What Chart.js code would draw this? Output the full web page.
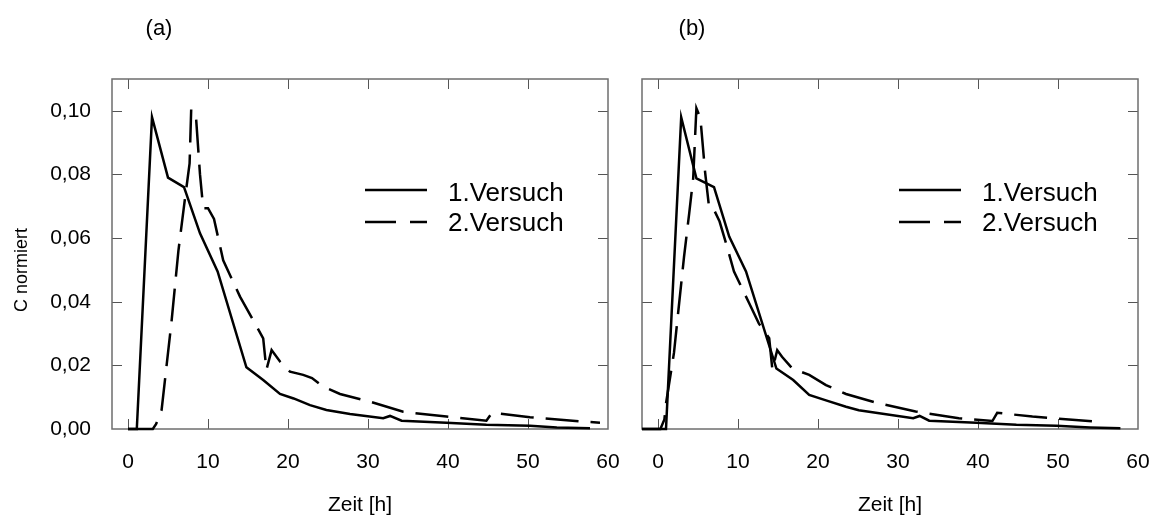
<!DOCTYPE html>
<html>
<head>
<meta charset="utf-8">
<script src="https://cdn.jsdelivr.net/npm/chart.js@4.4.1/dist/chart.umd.min.js"></script>
<style>
  body { margin: 0; background: #fff; }
  .panel { position: absolute; top: 0; height: 520px; }
  #links { left: 0; width: 620px; }
  #rechts { left: 620px; width: 534px; }
</style>
</head>
<body>
<div class="panel" id="links"><canvas id="chartA"></canvas></div>
<div class="panel" id="rechts"><canvas id="chartB"></canvas></div>
<script>
const xTicks = [0, 10, 20, 30, 40, 50, 60];
const yTicks = [0, 0.02, 0.04, 0.06, 0.08, 0.10];
const serienNamen = ["1.Versuch", "2.Versuch"];

// (a) 1.Versuch
const zeitA1 = [0, 1.1, 3, 5, 7, 9, 11.2, 14.8, 16.9, 19, 20.7, 22.75, 24.8, 27.75, 31.9, 32.75, 34.2, 39.8, 44.8, 50.25, 53.6, 57.75];
const wertA1 = [0, 0, 0.098, 0.079, 0.076, 0.0615, 0.0495, 0.0194, 0.0154, 0.011, 0.0096, 0.0075, 0.006, 0.0047, 0.0034, 0.0041, 0.0026, 0.002, 0.0013, 0.001, 0.0005, 0.0002];

// (a) 2.Versuch
const zeitA2 = [0, 3.1, 3.5, 3.75, 4.2, 5.45, 6.3, 7.1, 7.7, 7.9, 8.5, 9, 9.4, 10, 10.75, 11.9, 14, 16.9, 17.3, 17.95, 19, 20.25, 21.9, 23, 24.4, 26.5, 30.25, 34.4, 39.8, 44.8, 45.5, 50.25, 56.9, 59];
const wertA2 = [0, 0, 0.0015, 0.003, 0.006, 0.034, 0.056, 0.072, 0.0835, 0.1005, 0.098, 0.08, 0.0694, 0.0694, 0.066, 0.053, 0.0416, 0.0285, 0.0186, 0.0248, 0.0212, 0.018, 0.017, 0.016, 0.0133, 0.011, 0.0086, 0.0054, 0.0039, 0.0026, 0.0051, 0.0037, 0.0023, 0.002];

// (b) 1.Versuch
const zeitB1 = [-2, 1, 2.9, 4.8, 7, 8.9, 11, 14.8, 16.9, 18.9, 21, 23.5, 25.1, 31.9, 32.7, 33.9, 39.8, 44.8, 49.8, 54, 57.8];
const wertB1 = [0, 0, 0.098, 0.0788, 0.076, 0.0605, 0.0495, 0.019, 0.0154, 0.0107, 0.009, 0.007, 0.0059, 0.0034, 0.0041, 0.0026, 0.002, 0.0013, 0.001, 0.0005, 0.0002];

// (b) 2.Versuch
const zeitB2 = [-2, 0.3, 0.8, 1, 2, 2.6, 3.25, 3.9, 4.4, 4.8, 5.3, 5.9, 6.4, 7, 7.7, 8.5, 9.5, 11.4, 12.6, 13.9, 14.3, 14.9, 15.5, 16.8, 18.9, 21, 23.5, 27.2, 32.2, 37.6, 41.8, 42.4, 46.8, 55.5];
const wertB2 = [0, 0, 0.003, 0.008, 0.024, 0.0385, 0.054, 0.0678, 0.0788, 0.1008, 0.0977, 0.0804, 0.0694, 0.0689, 0.0652, 0.0584, 0.0495, 0.0395, 0.0332, 0.0285, 0.0186, 0.0248, 0.0227, 0.019, 0.017, 0.0138, 0.011, 0.0083, 0.0055, 0.0034, 0.0025, 0.0051, 0.0039, 0.0022];

const schrift = "'Liberation Sans', Arial, sans-serif";
const strich = [33, 12];

function punkte(zeit, werte) {
    return zeit.map((t, i) => ({ x: t, y: werte[i] }));
}

// Rahmen mit nach innen zeigenden Ticks auf allen vier Seiten
const rahmen = {
    id: "rahmen",
    beforeDatasetsDraw(chart) {
        const { ctx, chartArea: a, scales: { x, y } } = chart;
        ctx.save();
        ctx.strokeStyle = "#555";
        ctx.lineWidth = 1;
        ctx.beginPath();
        xTicks.forEach(v => {
            const px = Math.round(x.getPixelForValue(v)) + 0.5;
            if (px >= a.right - 2) return;
            ctx.moveTo(px, a.bottom); ctx.lineTo(px, a.bottom - 10);
            ctx.moveTo(px, a.top); ctx.lineTo(px, a.top + 10);
        });
        yTicks.forEach(v => {
            const py = Math.round(y.getPixelForValue(v)) + 0.5;
            if (py >= a.bottom - 2) return;
            ctx.moveTo(a.left, py); ctx.lineTo(a.left + 10, py);
            ctx.moveTo(a.right, py); ctx.lineTo(a.right - 10, py);
        });
        ctx.stroke();
        ctx.strokeStyle = "#6e6e6e";
        ctx.lineWidth = 1.5;
        ctx.strokeRect(a.left, a.top, a.right - a.left, a.bottom - a.top);
        ctx.restore();
    }
};

// Achsentitel, Panelbuchstabe und Legende
const beschriftung = {
    id: "beschriftung",
    afterDraw(chart, args, opt) {
        const { ctx, chartArea: a } = chart;
        ctx.save();
        ctx.fillStyle = "#000";
        ctx.textAlign = "center";
        ctx.textBaseline = "middle";
        ctx.font = "21px " + schrift;
        ctx.fillText("Zeit [h]", (a.left + a.right) / 2, 505);
        ctx.font = "22px " + schrift;
        ctx.fillText(opt.panel, opt.panelX, 29);
        if (opt.yTitel) {
            ctx.save();
            ctx.translate(22, 270);
            ctx.rotate(-Math.PI / 2);
            ctx.font = "18px " + schrift;
            ctx.fillText("C normiert", 0, 0);
            ctx.restore();
        }

        ctx.strokeStyle = "#000";
        ctx.lineWidth = 2.5;
        const x0 = opt.legendeX, x1 = opt.legendeX + 62;
        ctx.beginPath();
        ctx.moveTo(x0, 190); ctx.lineTo(x1, 190);
        ctx.stroke();
        ctx.beginPath();
        ctx.moveTo(x0, 222); ctx.lineTo(x0 + 31, 222);
        ctx.moveTo(x0 + 45, 222); ctx.lineTo(x1, 222);
        ctx.stroke();

        ctx.font = "26px " + schrift;
        ctx.textAlign = "left";
        ctx.textBaseline = "alphabetic";
        ctx.fillText(serienNamen[0], opt.legendeX + 83, 201);
        ctx.fillText(serienNamen[1], opt.legendeX + 83, 231);
        ctx.restore();
    }
};

function panel(canvasId, serie1, serie2, o) {
    return new Chart(document.getElementById(canvasId), {
        type: "line",
        data: {
            datasets: [
                { label: serienNamen[0], data: serie1, borderColor: "#000", borderWidth: 2.5 },
                { label: serienNamen[1], data: serie2, borderColor: "#000", borderWidth: 2.5, borderDash: strich }
            ]
        },
        options: {
            responsive: true,
            maintainAspectRatio: false,
            animation: false,
            events: [],
            layout: { padding: { top: 79, right: o.rechts, left: 0, bottom: 0 } },
            elements: { point: { radius: 0 }, line: { tension: 0, fill: false } },
            datasets: { line: { clip: 6 } },
            scales: {
                x: {
                    type: "linear",
                    min: -2,
                    max: 60,
                    grid: { display: false },
                    border: { display: false },
                    afterBuildTicks: s => { s.ticks = xTicks.map(v => ({ value: v })); },
                    afterFit: s => {
                        s.height = 91;
                        s.paddingLeft = 0;
                        s.paddingRight = 0;
                    },
                    ticks: {
                        autoSkip: false,
                        maxRotation: 0,
                        padding: 13,
                        color: "#000",
                        font: { family: schrift, size: 21 }
                    }
                },
                y: {
                    min: 0,
                    max: 0.11,
                    grid: { display: false },
                    border: { display: false },
                    afterBuildTicks: s => { s.ticks = yTicks.map(v => ({ value: v })); },
                    afterFit: s => {
                        s.width = o.yBreite;
                        s.paddingTop = 0;
                        s.paddingBottom = 0;
                    },
                    ticks: {
                        display: o.yLabels,
                        padding: 13,
                        color: "#000",
                        font: { family: schrift, size: 21 },
                        callback: v => v.toFixed(2).replace(".", ",")
                    }
                }
            },
            plugins: {
                legend: { display: false },
                tooltip: { enabled: false },
                beschriftung: o.text
            }
        },
        plugins: [rahmen, beschriftung]
    });
}

panel("chartA", punkte(zeitA1, wertA1), punkte(zeitA2, wertA2), {
    rechts: 12, yBreite: 112, yLabels: true,
    text: { panel: "(a)", panelX: 159, yTitel: true, legendeX: 365 }
});

panel("chartB", punkte(zeitB1, wertB1), punkte(zeitB2, wertB2), {
    rechts: 16, yBreite: 22, yLabels: false,
    text: { panel: "(b)", panelX: 72, yTitel: false, legendeX: 279 }
});
</script>
</body>
</html>
